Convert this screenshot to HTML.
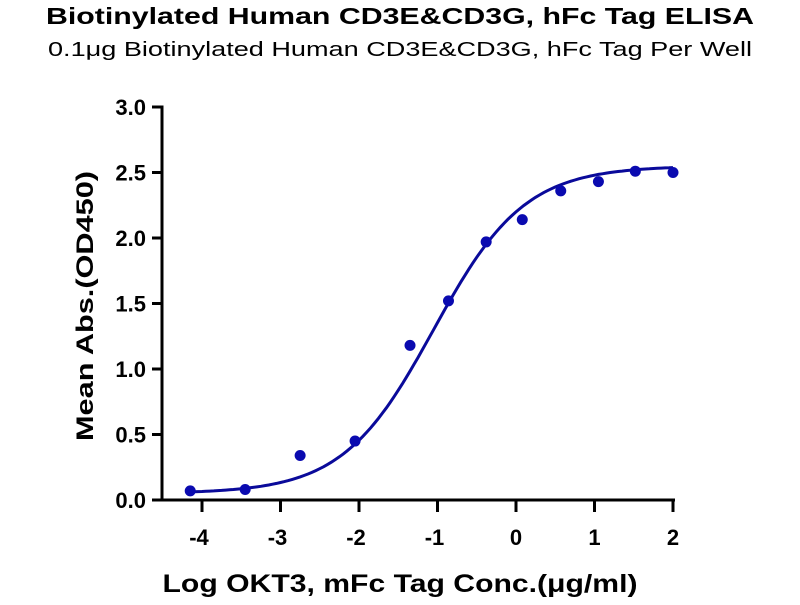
<!DOCTYPE html>
<html><head><meta charset="utf-8"><style>
body{margin:0;background:#fff;width:800px;height:600px;overflow:hidden}
svg text{font-family:"Liberation Sans",Arial,sans-serif}
</style></head><body>
<svg id="s" width="800" height="600" xmlns="http://www.w3.org/2000/svg">
<text x="400" y="24" text-anchor="middle" font-size="23" font-weight="bold" textLength="708" lengthAdjust="spacingAndGlyphs">Biotinylated Human CD3E&amp;CD3G, hFc Tag ELISA</text>
<text x="400" y="56" text-anchor="middle" font-size="20" textLength="704" lengthAdjust="spacingAndGlyphs">0.1μg Biotinylated Human CD3E&amp;CD3G, hFc Tag Per Well</text>
<g stroke="#000" stroke-width="3" fill="none">
<line x1="162" y1="105.5" x2="162" y2="501.5"/>
<line x1="152" y1="500" x2="675" y2="500"/>
</g>
<g id="ticks" stroke="#000" stroke-width="3"></g>
<g id="lbl" font-size="22" font-weight="bold"></g>
<text transform="translate(93,306) rotate(-90)" text-anchor="middle" font-size="24" font-weight="bold" textLength="270" lengthAdjust="spacingAndGlyphs">Mean Abs.(OD450)</text>
<text x="400" y="592" text-anchor="middle" font-size="25" font-weight="bold" textLength="475" lengthAdjust="spacingAndGlyphs">Log OKT3, mFc Tag Conc.(μg/ml)</text>
<path id="c" stroke="#0a0a9a" stroke-width="3" fill="none"/>
<g id="pts" fill="#0a0ab0"></g>
</svg>
<script>
const X=x=>516+78.5*x, Y=v=>500-131*v, NS="http://www.w3.org/2000/svg";
const t=document.getElementById('ticks'),l=document.getElementById('lbl');
function el(p,n,a,txt){const e=document.createElementNS(NS,n);for(const k in a)e.setAttribute(k,a[k]);if(txt!=null)e.textContent=txt;p.appendChild(e);}
for(let i=0;i<=6;i++){const v=i*0.5,y=Y(v);el(t,'line',{x1:152,x2:162,y1:y,y2:y});el(l,'text',{x:146,y:y+8,'text-anchor':'end'},v.toFixed(1));}
for(let x=-4;x<=2;x++){el(t,'line',{x1:X(x),x2:X(x),y1:500,y2:512});el(l,'text',{x:X(x)-(x<0?3:0),y:545,'text-anchor':'middle'},x);}
let d='';for(let x=-4.15;x<=2.001;x+=0.05){const v=0.05+2.5/(1+Math.pow(10,0.75*(-1.05-x)));d+=(d?'L':'M')+X(x).toFixed(1)+','+Y(v).toFixed(1);}
document.getElementById('c').setAttribute('d',d);
const P=[[-4.15,0.07],[-3.45,0.08],[-2.75,0.34],[-2.05,0.45],[-1.35,1.18],[-0.86,1.52],[-0.38,1.97],[0.08,2.14],[0.57,2.36],[1.05,2.43],[1.52,2.51],[2,2.5]];
const g=document.getElementById('pts');P.forEach(p=>el(g,'circle',{cx:X(p[0]),cy:Y(p[1]),r:5.5}));
</script>
</body></html>
